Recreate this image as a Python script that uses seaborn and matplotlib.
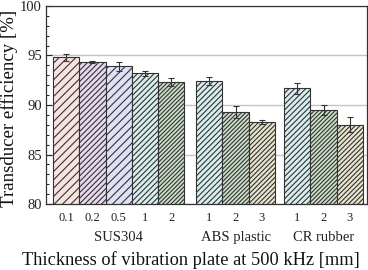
import pandas as pd
import matplotlib
matplotlib.use("Agg")
import matplotlib.pyplot as plt
import seaborn as sns

# values
groups = ["SUS304", "ABS plastic", "CR rubber"]
thickness = [["0.1", "0.2", "0.5", "1", "2"], ["1", "2", "3"], ["1", "2", "3"]]
efficiency = [[94.8, 94.3, 93.9, 93.2, 92.3], [92.4, 89.3, 88.3], [91.7, 89.5, 88.0]]
error = [[0.35, 0.1, 0.45, 0.25, 0.38], [0.4, 0.64, 0.17], [0.54, 0.54, 0.76]]

# style per thickness
colors = {"0.1": "#fde0dc", "0.2": "#ead4f2", "0.5": "#dcdcfa",
          "1": "#d4f2f2", "2": "#c8e2c4", "3": "#ebe6c8"}
hatches = {"0.1": "////", "0.2": "//////", "0.5": "////",
           "1": "//////", "2": "////////", "3": "///////"}
group_gap = [0.0, 0.45, 0.35]

# build table with bar positions
rows = []
pos = 0.0
centers = []
for g, th, ef, er, gap in zip(groups, thickness, efficiency, error, group_gap):
    pos += gap
    start = pos
    for t, e, s in zip(th, ef, er):
        rows.append({"pos": pos, "eff": e, "err": s, "thick": t, "group": g})
        pos += 1
    centers.append((start + pos - 1) / 2)
df = pd.DataFrame(rows)

sns.set_style("ticks")
plt.rcParams["font.family"] = ["Liberation Serif", "DejaVu Serif"]
plt.rcParams["hatch.linewidth"] = 0.8
plt.rcParams["hatch.color"] = "#333333"

fig = plt.figure(figsize=(3.68, 2.70), dpi=100)
ax = fig.add_axes([0.125, 0.244, 0.872, 0.734])

ax.yaxis.grid(True, color="#c4c4c4", linewidth=1.0)
ax.set_axisbelow(True)

sns.barplot(data=df, x="pos", y="eff", hue="thick", palette=colors,
            native_scale=True, dodge=False, width=1.0, errorbar=None,
            edgecolor="#333333", linewidth=0.8, legend=False, ax=ax)

# hatch each bar by its thickness
for p in ax.patches:
    xc = p.get_x() + p.get_width() / 2
    row = df.iloc[(df["pos"] - xc).abs().argmin()]
    p.set_hatch(hatches[row["thick"]])
    p.set_edgecolor("#333333")

ax.errorbar(df["pos"], df["eff"], yerr=df["err"], fmt="none",
            ecolor="#333333", elinewidth=0.8, capsize=2.5, capthick=0.8)

ax.set_ylim(80, 100)
ax.set_xlim(-0.77, df["pos"].max() + 0.65)
ax.set_yticks([80, 85, 90, 95, 100])
ax.set_yticks(range(80, 101), minor=True)
ax.tick_params(axis="y", which="major", direction="in", length=4,
               width=0.8, labelsize=10.5, colors="#222222", pad=3)
ax.tick_params(axis="y", which="minor", direction="in", length=2.5, width=0.8)
ax.set_xticks(df["pos"])
ax.set_xticklabels(df["thick"])
ax.tick_params(axis="x", length=0, labelsize=9, pad=5.5, colors="#222222")
ax.set_xlabel("")
ax.set_ylabel("")

for s in ax.spines.values():
    s.set_visible(True)
    s.set_color("#333333")
    s.set_linewidth(0.9)

for g, c in zip(groups, centers):
    ax.text(c, -0.168, g, transform=ax.get_xaxis_transform(),
            ha="center", va="center", fontsize=10.5, color="#222222")

fig.text(190.5 / 368, 0.004, "Thickness of vibration plate at 500 kHz [mm]",
         fontsize=13.2, ha="center", va="bottom", color="#111111")
fig.text(9 / 368, 1 - 108 / 270, "Transducer efficiency [%]", fontsize=13.6,
         rotation=90, ha="center", va="center", color="#111111")

plt.savefig("out.png", dpi=100)
